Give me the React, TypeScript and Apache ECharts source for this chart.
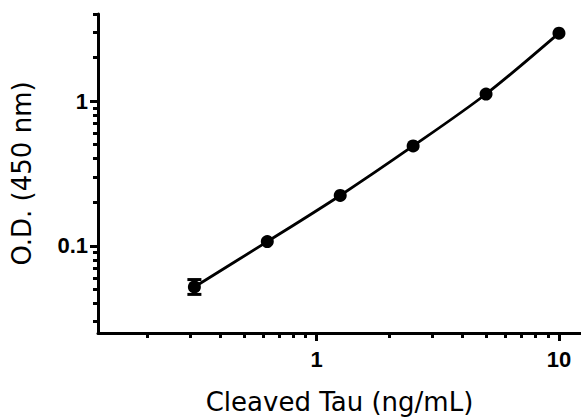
import React, { useEffect, useRef } from "react";
import * as echarts from "echarts";

const concentrations = [0.3125, 0.625, 1.25, 2.5, 5, 10];
const odValues = [0.052, 0.107, 0.223, 0.49, 1.12, 2.95];
const errLow = [0.0462, null, null, null, null, null];
const errHigh = [0.0585, null, null, null, null, null];

const xMajorTicks = [1, 10];
const xMinorTicks = [0.2, 0.3, 0.4, 0.5, 0.6, 0.7, 0.8, 0.9, 2, 3, 4, 5, 6, 7, 8, 9];
const yMajorTicks = [0.1, 1];
const yMinorTicks = [0.03, 0.04, 0.05, 0.06, 0.07, 0.08, 0.09, 0.2, 0.3, 0.4, 0.5, 0.6, 0.7, 0.8, 0.9, 2, 3, 4];

const X_MIN = 0.125;
const X_MAX = 12.33;
const Y_MIN = 0.025;
const Y_MAX = 4;

export default function App() {
  const ref = useRef<HTMLDivElement>(null);
  useEffect(() => {
    if (!ref.current) return;
    const chart = echarts.init(ref.current, null, { renderer: "svg" });
    const labelStyle = {
      fontFamily: "Liberation Sans, Arial, sans-serif",
      fontWeight: "bold" as const,
      fontSize: 22,
      color: "#000",
    };
    const titleStyle = {
      fontFamily: "DejaVu Sans, sans-serif",
      fontSize: 26,
      color: "#000",
    };
    const fmt = (v: number) => {
      if (Math.abs(v - 0.1) < 1e-9) return "0.1";
      if (Math.abs(v - 1) < 1e-9) return "1";
      if (Math.abs(v - 10) < 1e-9) return "10";
      return "";
    };
    const errData = concentrations
      .map((c, i) => (errLow[i] != null ? [c, errLow[i], errHigh[i]] : null))
      .filter((d) => d !== null);
    chart.setOption({
      animation: false,
      grid: { left: 98, right: 0, top: 14, bottom: 84, containLabel: false },
      xAxis: [
        {
          type: "log",
          min: X_MIN,
          max: X_MAX,
          position: "bottom",
          name: "Cleaved Tau (ng/mL)",
          nameLocation: "middle",
          nameGap: 56,
          nameTextStyle: titleStyle,
          axisLine: { show: true, lineStyle: { color: "#000", width: 3 } },
          axisTick: { show: true, length: 8, customValues: xMajorTicks, lineStyle: { color: "#000", width: 3 } },
          axisLabel: { show: true, margin: 15, customValues: xMajorTicks, formatter: fmt, ...labelStyle },
          splitLine: { show: false },
          minorTick: { show: false },
        },
        {
          type: "log",
          min: X_MIN,
          max: X_MAX,
          position: "bottom",
          offset: 0,
          axisLine: { show: false },
          axisTick: { show: true, length: 5, customValues: xMinorTicks, lineStyle: { color: "#000", width: 3 } },
          axisLabel: { show: false },
          splitLine: { show: false },
        },
      ],
      yAxis: [
        {
          type: "log",
          min: Y_MIN,
          max: Y_MAX,
          position: "left",
          name: "O.D. (450 nm)",
          nameLocation: "middle",
          nameGap: 63,
          nameTextStyle: titleStyle,
          axisLine: { show: true, lineStyle: { color: "#000", width: 3 } },
          axisTick: { show: true, length: 8, customValues: yMajorTicks, lineStyle: { color: "#000", width: 3 } },
          axisLabel: { show: true, margin: 10, customValues: yMajorTicks, formatter: fmt, ...labelStyle },
          splitLine: { show: false },
        },
        {
          type: "log",
          min: Y_MIN,
          max: Y_MAX,
          position: "left",
          offset: 0,
          axisLine: { show: false },
          axisTick: { show: true, length: 5, customValues: yMinorTicks, lineStyle: { color: "#000", width: 3 } },
          axisLabel: { show: false },
          splitLine: { show: false },
        },
      ],
      series: [
        {
          type: "line",
          xAxisIndex: 0,
          yAxisIndex: 0,
          data: concentrations.map((c, i) => [c, odValues[i]]),
          smooth: 0.3,
          symbol: "circle",
          symbolSize: 13,
          itemStyle: { color: "#000" },
          lineStyle: { color: "#000", width: 2.8 },
          z: 3,
        },
        {
          type: "custom",
          xAxisIndex: 0,
          yAxisIndex: 0,
          data: errData,
          encode: { x: 0, y: [1, 2] },
          clip: false,
          z: 4,
          renderItem: (params: any, api: any) => {
            const x = api.value(0);
            const lo = api.coord([x, api.value(1)]);
            const hi = api.coord([x, api.value(2)]);
            const hw = 7;
            const style = { stroke: "#000", lineWidth: 3 };
            return {
              type: "group",
              children: [
                { type: "line", shape: { x1: lo[0], y1: lo[1], x2: hi[0], y2: hi[1] }, style },
                { type: "line", shape: { x1: lo[0] - hw, y1: lo[1], x2: lo[0] + hw, y2: lo[1] }, style },
                { type: "line", shape: { x1: hi[0] - hw, y1: hi[1], x2: hi[0] + hw, y2: hi[1] }, style },
              ],
            };
          },
        },
      ],
    });
    return () => chart.dispose();
  }, []);
  return <div ref={ref} style={{ width: 581, height: 420, position: "absolute", left: 0, top: 0 }} />;
}
